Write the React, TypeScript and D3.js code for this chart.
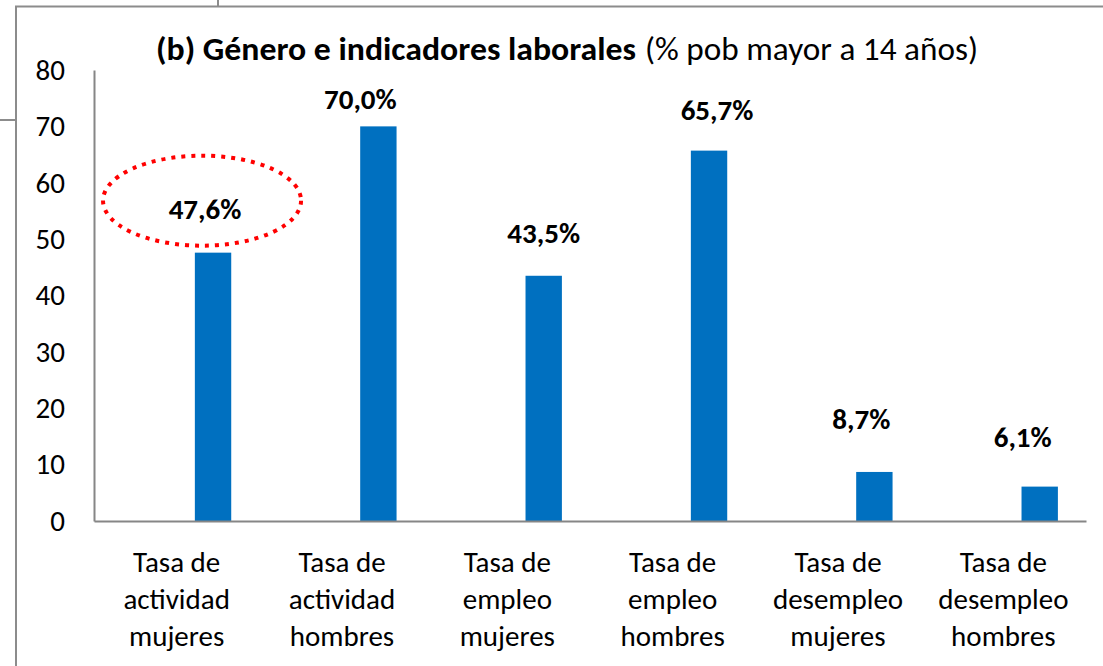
import React, { useEffect, useRef } from 'react';
import * as d3 from 'd3';

// categories, one array of lines per bar
const categories = [
    ['Tasa de', 'actividad', 'mujeres'],
    ['Tasa de', 'actividad', 'hombres'],
    ['Tasa de', 'empleo', 'mujeres'],
    ['Tasa de', 'empleo', 'hombres'],
    ['Tasa de', 'desempleo', 'mujeres'],
    ['Tasa de', 'desempleo', 'hombres'],
];
const values = [47.6, 70.0, 43.5, 65.7, 8.7, 6.1];
const valueLabels = ['47,6%', '70,0%', '43,5%', '65,7%', '8,7%', '6,1%'];
const yTicks = [0, 10, 20, 30, 40, 50, 60, 70, 80];
const titleBold = '(b) Género e indicadores laborales';
const titleRest = '(% pob mayor a 14 años)';

// the labels were moved by hand in the original, so nudge them a bit
const labelDx = [-8, -18, 0, 8, -13, -17];
const labelDy = [34, 17, 33, 31, 43, 40];

const FONT = 'Carlito, Calibri, Lato, sans-serif';

function drawChart(svgRoot: SVGSVGElement) {
    const svg = d3.select(svgRoot);
    svg.selectChildren().remove();

    const width = 1103;
    const height = 666;
    const margin = { top: 70, right: 17, bottom: 145, left: 94 };

    svg.attr('width', width).attr('height', height).attr('viewBox', [0, 0, width, height] as any);

    const keys = categories.map((_, i) => String(i));
    const x = d3.scaleBand().domain(keys).range([margin.left, width - margin.right]);
    const y = d3.scaleLinear().domain([0, 80]).range([height - margin.bottom, margin.top]);
    const barW = x.bandwidth() * 0.22;
    const barCx = (i: number) => (x(String(i)) ?? 0) + x.bandwidth() / 2 + barW;

    // frame pieces
    const frame = svg.append('g').attr('stroke', '#8c8c8c').attr('stroke-width', 2).attr('fill', 'none');
    frame.append('path').attr('d', `M16,${height + 5}V6.5H${width + 5}`);
    frame.append('line').attr('x1', 218).attr('x2', 218).attr('y1', 0).attr('y2', 6);
    frame.append('line').attr('x1', 0).attr('x2', 16).attr('y1', 120).attr('y2', 120);

    // title
    const title = svg.append('g').attr('font-family', FONT).attr('fill', '#000');
    title.append('text')
        .attr('x', 156).attr('y', 60)
        .attr('font-size', 32).attr('font-weight', 'bold')
        .attr('textLength', 480).attr('lengthAdjust', 'spacingAndGlyphs')
        .text(titleBold);
    title.append('text')
        .attr('x', 645).attr('y', 60)
        .attr('font-size', 32)
        .attr('textLength', 333).attr('lengthAdjust', 'spacingAndGlyphs')
        .text(titleRest);

    // y axis
    const yAxis = svg.append('g')
        .attr('transform', `translate(${margin.left},0)`)
        .call(d3.axisLeft(y).tickValues(yTicks).tickSize(0).tickPadding(29).tickFormat(d3.format('d')));
    yAxis.select('.domain').attr('stroke', '#868686').attr('stroke-width', 2);
    yAxis.selectAll('text').attr('font-family', FONT).attr('font-size', 29).attr('fill', '#000');

    // bars
    svg.append('g')
        .selectAll('rect')
        .data(values)
        .join('rect')
        .attr('x', (d, i) => barCx(i) - barW / 2)
        .attr('y', (d) => y(d))
        .attr('width', barW)
        .attr('height', (d) => y(0) - y(d))
        .attr('fill', '#0070c0');

    // x axis
    const xAxis = svg.append('g')
        .attr('transform', `translate(0,${y(0)})`)
        .call(d3.axisBottom(x).tickSize(0).tickFormat(() => ''));
    xAxis.select('.domain').attr('stroke', '#868686').attr('stroke-width', 2);
    xAxis.selectAll('.tick text').remove();

    const catLabels = svg.append('g')
        .attr('font-family', FONT).attr('font-size', 29).attr('fill', '#000').attr('text-anchor', 'middle');
    categories.forEach((lines, i) => {
        const cx = (x(String(i)) ?? 0) + x.bandwidth() / 2;
        const t = catLabels.append('text').attr('x', cx).attr('y', y(0) + 51);
        lines.forEach((ln, j) => {
            t.append('tspan')
                .attr('x', cx)
                .attr('dy', j === 0 ? 0 : 37)
                .text(ln);
        });
    });

    // value labels
    svg.append('g')
        .attr('font-family', FONT).attr('font-size', 29).attr('font-weight', 'bold')
        .attr('fill', '#000').attr('text-anchor', 'middle')
        .selectAll('text')
        .data(values)
        .join('text')
        .attr('x', (d, i) => barCx(i) + labelDx[i])
        .attr('y', (d, i) => y(d) - labelDy[i])
        .text((d, i) => valueLabels[i]);

    // red dotted ring around the first label
    svg.append('ellipse')
        .attr('cx', barCx(0) + labelDx[0] - 3)
        .attr('cy', y(values[0]) - labelDy[0] - 18)
        .attr('rx', 99)
        .attr('ry', 45)
        .attr('fill', 'none')
        .attr('stroke', '#ff0000')
        .attr('stroke-width', 4)
        .attr('stroke-dasharray', '4 6');
}

export default function App() {
    const svgRef = useRef<SVGSVGElement>(null);

    useEffect(() => {
        svgRef.current && drawChart(svgRef.current);
    }, []);

    return (
        <div style={{ position: 'fixed', left: 0, top: 0, width: 1103, height: 666, background: '#fff', overflow: 'hidden' }}>
            <svg ref={svgRef} style={{ display: 'block' }} />
        </div>
    );
}
